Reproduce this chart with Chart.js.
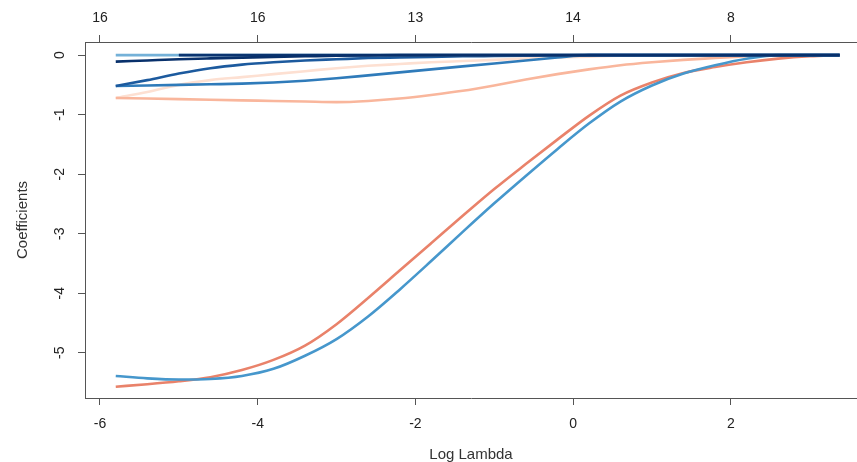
<!DOCTYPE html>
<html>
<head>
<meta charset="utf-8">
<script src="https://cdn.jsdelivr.net/npm/chart.js@4.4.1/dist/chart.umd.min.js"></script>
<style>
  html, body { margin: 0; padding: 0; background: #fff; }
  #wrap { width: 857px; height: 462px; }
</style>
</head>
<body>
<div id="wrap"><canvas id="pathChart" width="857" height="462"></canvas></div>
<script>
// log(lambda) grid, shared by every coefficient path
const logLambda = [-5.8, -5.4, -5.0, -4.6, -4.2, -3.8, -3.4, -3.0, -2.6, -2.2, -1.8, -1.4,
                   -1.0, -0.6, -0.2, 0.2, 0.6, 1.0, 1.4, 1.8, 2.2, 2.6, 3.0, 3.38];

// tick labels
const xTicks = [-6, -4, -2, 0, 2];
const dfLabels = ['16', '16', '13', '14', '8'];   // top axis: number of non-zero coefs
const yTicks = [0, -1, -2, -3, -4, -5];

// coefficient paths
const coefNavy      = [-0.11, -0.09, -0.07, -0.055, -0.042, -0.03, -0.02, -0.01, -0.005, 0, 0, 0,
                       0, 0, 0, 0, 0, 0, 0, 0, 0, 0, 0, 0];
const coefNavyZero  = [null, null, 0, 0, 0, 0, 0, 0, 0, 0, 0, 0,
                       0, 0, 0, 0, 0, 0, 0, 0, 0, 0, 0, 0];
const coefLightBlue = [0, 0, 0, 0, 0, 0, 0, 0, 0, 0, 0, 0,
                       0, 0, 0, 0, 0, 0, 0, 0, 0, 0, 0, 0];
const coefDarkBlue  = [-0.52, -0.42, -0.31, -0.22, -0.16, -0.12, -0.09, -0.07, -0.05, -0.04, -0.03, -0.02,
                       -0.015, -0.01, -0.005, 0, 0, 0, 0, 0, 0, 0, 0, 0];
const coefMidBlue   = [-0.52, -0.51, -0.50, -0.49, -0.48, -0.46, -0.43, -0.39, -0.34, -0.29, -0.24, -0.19,
                       -0.14, -0.09, -0.04, 0, 0, 0, 0, 0, 0, 0, 0, 0];
const coefPalePink  = [-0.72, -0.62, -0.50, -0.42, -0.37, -0.32, -0.27, -0.22, -0.18, -0.15, -0.12, -0.10,
                       -0.08, -0.06, -0.04, -0.025, -0.01, 0, 0, 0, 0, 0, 0, 0];
const coefSalmon    = [-0.72, -0.73, -0.74, -0.75, -0.76, -0.77, -0.78, -0.79, -0.77, -0.73, -0.67, -0.60,
                       -0.51, -0.41, -0.32, -0.24, -0.17, -0.12, -0.08, -0.05, -0.02, 0, 0, 0];
const coefBlue      = [-5.39, -5.43, -5.45, -5.44, -5.39, -5.27, -5.05, -4.77, -4.39, -3.94, -3.46, -2.97,
                       -2.49, -2.03, -1.58, -1.15, -0.78, -0.51, -0.31, -0.17, -0.06, 0, 0, 0];
const coefRed       = [-5.57, -5.53, -5.48, -5.41, -5.29, -5.12, -4.88, -4.52, -4.08, -3.62, -3.16, -2.70,
                       -2.25, -1.83, -1.42, -1.02, -0.68, -0.46, -0.30, -0.20, -0.12, -0.06, -0.02, 0];

const FONT = '"Liberation Sans", Arial, Helvetica, sans-serif';

function path(values, color) {
    return {
        data: values.map((v, i) => ({ x: logLambda[i], y: v })),
        borderColor: color,
        borderWidth: 2.6,
        pointRadius: 0,
        fill: false,
        cubicInterpolationMode: 'monotone',
        spanGaps: false
    };
}

// R draws the y tick labels parallel to the axis, Chart.js can't rotate them
const rotatedYTicks = {
    id: 'rotatedYTicks',
    afterDraw(chart) {
        const yScale = chart.scales.y;
        const ctx = chart.ctx;
        ctx.save();
        ctx.font = '14px ' + FONT;
        ctx.fillStyle = '#222';
        ctx.textAlign = 'center';
        ctx.textBaseline = 'middle';
        yTicks.forEach(v => {
            ctx.save();
            ctx.translate(60, yScale.getPixelForValue(v));
            ctx.rotate(-Math.PI / 2);
            ctx.fillText(String(v), 0, 0);
            ctx.restore();
        });
        ctx.restore();
    }
};

const axisGrid = { drawOnChartArea: false, drawTicks: true, tickLength: 7, color: '#555', tickColor: '#555' };
const axisBorder = { display: true, color: '#555', width: 1 };

new Chart(document.getElementById('pathChart').getContext('2d'), {
    type: 'line',
    data: {
        datasets: [
            path(coefNavy, '#08306b'),
            path(coefNavyZero, '#0a3470'),
            path(coefLightBlue, '#74b1d8'),
            path(coefDarkBlue, '#1c5a9e'),
            path(coefMidBlue, '#2f7bba'),
            path(coefBlue, '#4697cc'),
            path(coefRed, '#e9826a'),
            path(coefSalmon, '#f9b69c'),
            path(coefPalePink, '#fde0d2')
        ]
    },
    options: {
        responsive: false,
        animation: false,
        devicePixelRatio: 1,
        layout: { padding: 0 },
        plugins: { legend: { display: false }, tooltip: { enabled: false } },
        scales: {
            x: {
                type: 'linear',
                position: 'bottom',
                min: -6.19,
                max: 3.6,
                afterBuildTicks: s => { s.ticks = xTicks.map(v => ({ value: v })); },
                afterFit: s => { s.height = 64; },
                grid: axisGrid,
                border: axisBorder,
                ticks: {
                    font: { family: FONT, size: 14 },
                    color: '#222',
                    padding: 11,
                    maxRotation: 0,
                    autoSkip: false
                },
                title: {
                    display: true,
                    text: 'Log Lambda',
                    font: { family: FONT, size: 15 },
                    color: '#333',
                    padding: { top: 0, bottom: -2 }
                }
            },
            x2: {
                type: 'linear',
                position: 'top',
                min: -6.19,
                max: 3.6,
                afterBuildTicks: s => { s.ticks = xTicks.map(v => ({ value: v })); },
                afterFit: s => { s.height = 42; },
                grid: axisGrid,
                border: axisBorder,
                ticks: {
                    font: { family: FONT, size: 14 },
                    color: '#222',
                    padding: 8,
                    maxRotation: 0,
                    autoSkip: false,
                    callback: (value, index) => dfLabels[index]
                }
            },
            y: {
                type: 'linear',
                position: 'left',
                min: -5.76,
                max: 0.22,
                afterBuildTicks: s => { s.ticks = yTicks.map(v => ({ value: v })); },
                afterFit: s => { s.width = 85; },
                grid: axisGrid,
                border: axisBorder,
                ticks: { color: 'rgba(0,0,0,0)', font: { family: FONT, size: 14 } },
                title: {
                    display: true,
                    text: 'Coefficients',
                    font: { family: FONT, size: 15 },
                    color: '#333',
                    padding: { top: 14, bottom: 0 }
                }
            }
        }
    },
    plugins: [rotatedYTicks]
});
</script>
</body>
</html>
